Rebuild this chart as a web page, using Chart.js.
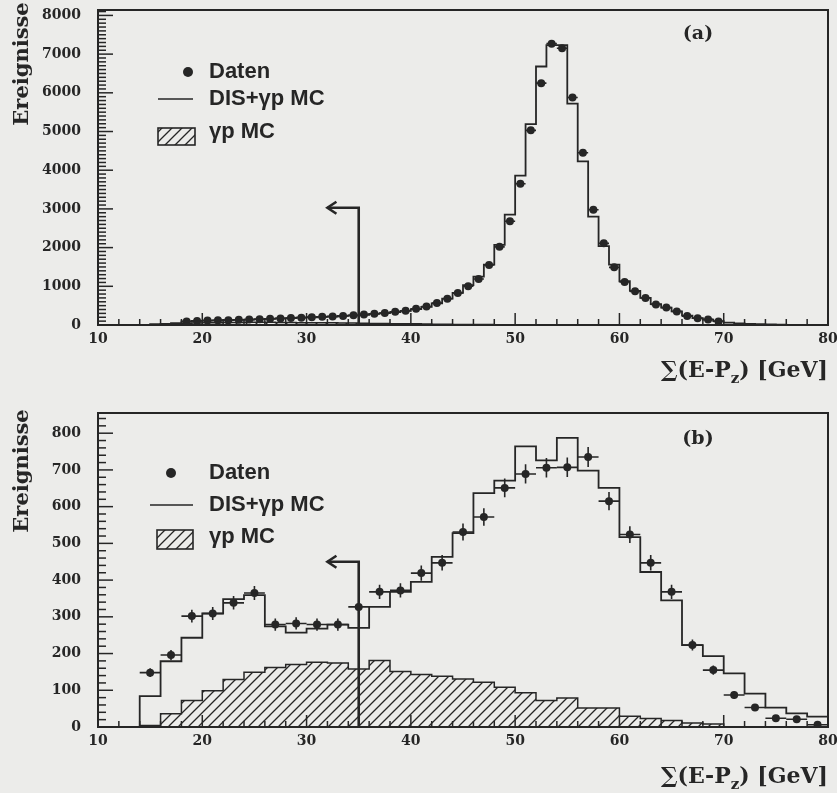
<!DOCTYPE html>
<html>
<head>
<meta charset="utf-8">
<script src="https://cdn.jsdelivr.net/npm/chart.js@4.4.0/dist/chart.umd.min.js"></script>
<style>
  body { margin: 0; background: #ececea; }
  .panel { position: absolute; left: 0; width: 837px; }
</style>
</head>
<body>
<div class="panel" style="top:0;height:395px"><canvas id="chartA"></canvas></div>
<div class="panel" style="top:395px;height:398px"><canvas id="chartB"></canvas></div>
<script>
// ---- panel (a): 1 GeV bins ----
const aDataFrom = 18;   // lower edge of first data bin
const aData = [90,105,115,120,125,135,140,150,160,170,180,190,200,210,220,235,250,270,290,310,
  340,370,420,480,570,680,830,1000,1190,1550,2020,2680,3650,5030,6250,7270,7150,5880,4450,2980,
  2110,1490,1110,870,700,530,450,350,230,175,145,90];
const aMCFrom = 15;
const aMC = [20,30,50,90,105,115,120,125,130,140,150,160,170,180,190,200,210,220,235,250,
  265,285,305,335,365,410,470,560,680,830,1030,1250,1560,2070,2850,3860,5190,6680,7230,7230,
  5720,4230,2800,2040,1560,1130,880,700,540,450,350,240,180,140,100,60,40,30,20,15,10];
const aGpFrom = 16;
const aGp = [10,25,40,50,55,60,65,65,70,70,70,65,65,60,60,55,55,50,50,45,40,40,35,30,30,25,20,20,15,15,10,10,5];
const aBin = 1;
const aArrowTop = 3030;
const aYTicks = [0,1000,2000,3000,4000,5000,6000,7000,8000];

// ---- panel (b): 2 GeV bins ----
const bDataFrom = 14;
const bData = [148,196,302,309,338,365,279,282,279,279,327,368,372,419,447,531,572,651,689,706,
  707,735,615,524,447,368,223,155,87,53,24,21,6];
const bMCFrom = 10;
const bMC = [0,0,84,179,243,309,348,359,274,257,268,279,270,327,368,395,463,528,637,671,
  764,726,787,698,651,517,422,345,223,193,146,91,53,37,28];
const bGpFrom = 14;
const bGp = [4,36,72,99,129,149,162,170,176,174,158,181,151,143,138,131,122,108,93,72,79,52,52,29,23,18,11,8];
const bBin = 2;
const bArrowTop = 450;
const bYTicks = [0,100,200,300,400,500,600,700,800];

const cutValue = 35;     // GeV, cut line
const arrowTip = 32;     // GeV, where the arrow points to
const xTicks = [10, 20, 30, 40, 50, 60, 70, 80];
const legendLabels = ['Daten', 'DIS+\u03b3p MC', '\u03b3p MC'];

const ink = '#262626';
const paperColor = '#ececea';

function makeHatch() {
  const tile = document.createElement('canvas');
  tile.width = 10; tile.height = 10;
  const g = tile.getContext('2d');
  g.strokeStyle = ink;
  g.lineWidth = 1.3;
  g.beginPath();
  g.moveTo(-1, 11); g.lineTo(11, -1);
  g.moveTo(-6, 6); g.lineTo(6, -6);
  g.moveTo(4, 16); g.lineTo(16, 4);
  g.stroke();
  return g.createPattern(tile, 'repeat');
}
const hatch = makeHatch();

// histogram outline as stepped points
function histPoints(from, width, vals) {
  const pts = [{x: from, y: 0}];
  vals.forEach((v, i) => pts.push({x: from + i * width, y: v}));
  const end = from + vals.length * width;
  pts.push({x: end, y: vals[vals.length - 1]});
  pts.push({x: end, y: 0});
  return pts;
}
function binCentres(from, width, vals) {
  return vals.map((v, i) => ({x: from + (i + 0.5) * width, y: v}));
}

const paper = {
  id: 'paper',
  beforeDraw(chart) {
    const c = chart.ctx;
    c.save();
    c.fillStyle = paperColor;
    c.fillRect(0, 0, chart.width, chart.height);
    c.restore();
  },
  afterDatasetsDraw(chart, args, o) {
    const ctx = chart.ctx, a = chart.chartArea;
    const x = chart.scales.x, y = chart.scales.y;
    ctx.save();
    ctx.strokeStyle = ink;
    ctx.fillStyle = ink;

    // error bars on data points
    chart.data.datasets.forEach(ds => {
      if (!ds.halfWidth) return;
      ctx.lineWidth = 1.6;
      ds.data.forEach(p => {
        const e = Math.sqrt(p.y);
        const py = y.getPixelForValue(p.y), px = x.getPixelForValue(p.x);
        ctx.beginPath();
        ctx.moveTo(x.getPixelForValue(p.x - ds.halfWidth), py);
        ctx.lineTo(x.getPixelForValue(p.x + ds.halfWidth), py);
        ctx.moveTo(px, y.getPixelForValue(Math.max(0, p.y - e)));
        ctx.lineTo(px, y.getPixelForValue(p.y + e));
        ctx.stroke();
      });
    });

    // cut arrow
    const cx = x.getPixelForValue(cutValue), ty = y.getPixelForValue(o.arrowTop);
    const tx = x.getPixelForValue(arrowTip);
    ctx.lineWidth = 2.6;
    ctx.beginPath();
    ctx.moveTo(cx, y.getPixelForValue(0));
    ctx.lineTo(cx, ty);
    ctx.lineTo(tx, ty);
    ctx.stroke();
    ctx.beginPath();
    ctx.moveTo(tx + 9, ty - 6);
    ctx.lineTo(tx, ty);
    ctx.lineTo(tx + 9, ty + 6);
    ctx.stroke();

    // frame
    ctx.lineWidth = 2;
    ctx.strokeRect(a.left, a.top, a.right - a.left, a.bottom - a.top);

    // inward ticks
    ctx.lineWidth = 1.5;
    const nx = Math.round((x.max - x.min) / 2);
    for (let i = 0; i <= nx; i++) {
      const v = x.min + i * 2;
      const px = x.getPixelForValue(v);
      ctx.beginPath();
      ctx.moveTo(px, a.bottom);
      ctx.lineTo(px, a.bottom - (v % 10 === 0 ? 12 : 6));
      ctx.stroke();
    }
    for (let i = 0; i * o.yMinor <= y.max; i++) {
      const v = i * o.yMinor;
      const py = y.getPixelForValue(v);
      ctx.beginPath();
      ctx.moveTo(a.left, py);
      ctx.lineTo(a.left + (v % o.yMajor === 0 ? 15 : 8), py);
      ctx.stroke();
    }

    // legend
    const L = o.legend;
    ctx.textAlign = 'left';
    ctx.textBaseline = 'middle';
    ctx.font = 'bold 22px "Liberation Sans", Arial, sans-serif';
    ctx.beginPath();
    ctx.arc(L.dotX, L.rows[0], 5, 0, Math.PI * 2);
    ctx.fill();
    ctx.fillText(legendLabels[0], L.textX, L.rows[0]);
    ctx.lineWidth = 1.6;
    ctx.beginPath();
    ctx.moveTo(L.lineX[0], L.rows[1]);
    ctx.lineTo(L.lineX[1], L.rows[1]);
    ctx.stroke();
    ctx.fillText(legendLabels[1], L.textX, L.rows[1]);
    ctx.fillStyle = hatch;
    ctx.fillRect(L.box[0], L.box[1], L.box[2], L.box[3]);
    ctx.fillStyle = ink;
    ctx.strokeRect(L.box[0], L.box[1], L.box[2], L.box[3]);
    ctx.fillText(legendLabels[2], L.textX, L.rows[2]);

    // panel label
    ctx.font = 'bold 19px "DejaVu Serif", serif';
    ctx.textAlign = 'center';
    ctx.fillText(o.tag, o.tagPos[0], o.tagPos[1]);

    // y title
    ctx.save();
    ctx.translate(23, o.yTitleY);
    ctx.rotate(-Math.PI / 2);
    ctx.font = 'bold 21px "DejaVu Serif", serif';
    ctx.fillText('Ereignisse', 0, 0);
    ctx.restore();

    // x title with subscript
    ctx.textAlign = 'left';
    ctx.textBaseline = 'alphabetic';
    const big = 'bold 22px "DejaVu Serif", serif', small = 'bold 15px "DejaVu Serif", serif';
    const parts = [['\u2211(E-P', big, 0], ['z', small, 6], [') [GeV]', big, 0]];
    let w = 0;
    parts.forEach(p => { ctx.font = p[1]; w += ctx.measureText(p[0]).width; });
    let px = a.right - w;
    parts.forEach(p => {
      ctx.font = p[1];
      ctx.fillText(p[0], px, o.xTitleY + p[2]);
      px += ctx.measureText(p[0]).width;
    });
    ctx.restore();
  }
};

function makeChart(id, cfg) {
  const tickFont = { family: '"DejaVu Serif", serif', weight: 'bold', size: 14 };
  return new Chart(document.getElementById(id), {
    type: 'line',
    data: {
      datasets: [
        {
          type: 'scatter', data: cfg.points, halfWidth: cfg.bin / 2,
          pointRadius: 4, pointBackgroundColor: ink, pointBorderWidth: 0, showLine: false
        },
        {
          data: cfg.mc, stepped: true, borderColor: ink, borderWidth: 1.8,
          pointRadius: 0, fill: false
        },
        {
          data: cfg.gp, stepped: true, borderColor: ink, borderWidth: 1.5,
          pointRadius: 0, fill: 'origin', backgroundColor: hatch
        }
      ]
    },
    options: {
      animation: false,
      responsive: true,
      maintainAspectRatio: false,
      events: [],
      layout: { padding: { top: cfg.top, right: 9, left: 0, bottom: 0 } },
      scales: {
        x: {
          type: 'linear', min: 10, max: 80,
          afterFit: s => { s.height = cfg.xHeight; s.paddingLeft = 0; s.paddingRight = 0; },
          afterBuildTicks: s => { s.ticks = xTicks.map(v => ({value: v})); },
          grid: { display: false, drawTicks: false },
          border: { display: false },
          ticks: {
            autoSkip: false, maxRotation: 0, padding: 6, color: ink, font: tickFont,
            callback: v => String(v)
          }
        },
        y: {
          min: 0, max: cfg.yMax,
          afterFit: s => { s.width = 98; s.paddingTop = 0; s.paddingBottom = 0; },
          afterBuildTicks: s => { s.ticks = cfg.yTicks.map(v => ({value: v})); },
          grid: { display: false, drawTicks: false },
          border: { display: false },
          ticks: {
            autoSkip: false, padding: 17, color: ink, font: tickFont,
            callback: v => String(v)
          }
        }
      },
      plugins: {
        legend: { display: false },
        tooltip: { enabled: false },
        paper: {
          arrowTop: cfg.arrowTop, yMajor: cfg.yMajor, yMinor: cfg.yMinor,
          legend: cfg.legend, tag: cfg.tag, tagPos: cfg.tagPos,
          yTitleY: cfg.yTitleY, xTitleY: cfg.xTitleY
        }
      }
    },
    plugins: [paper]
  });
}

makeChart('chartA', {
  points: binCentres(aDataFrom, aBin, aData),
  mc: histPoints(aMCFrom, aBin, aMC),
  gp: histPoints(aGpFrom, aBin, aGp),
  bin: aBin, top: 10, xHeight: 70, yMax: 8140, yTicks: aYTicks, yMajor: 1000, yMinor: 100,
  arrowTop: aArrowTop,
  legend: { dotX: 188, textX: 209, rows: [72, 99, 132], lineX: [158, 193], box: [158, 128, 37, 17] },
  tag: '(a)', tagPos: [698, 34], yTitleY: 64, xTitleY: 377
});

makeChart('chartB', {
  points: binCentres(bDataFrom, bBin, bData),
  mc: histPoints(bMCFrom, bBin, bMC),
  gp: histPoints(bGpFrom, bBin, bGp),
  bin: bBin, top: 18, xHeight: 66, yMax: 855, yTicks: bYTicks, yMajor: 100, yMinor: 20,
  arrowTop: bArrowTop,
  legend: { dotX: 171, textX: 209, rows: [78, 110, 142], lineX: [150, 193], box: [157, 135, 36, 19] },
  tag: '(b)', tagPos: [698, 44], yTitleY: 76, xTitleY: 388
});
</script>
</body>
</html>
